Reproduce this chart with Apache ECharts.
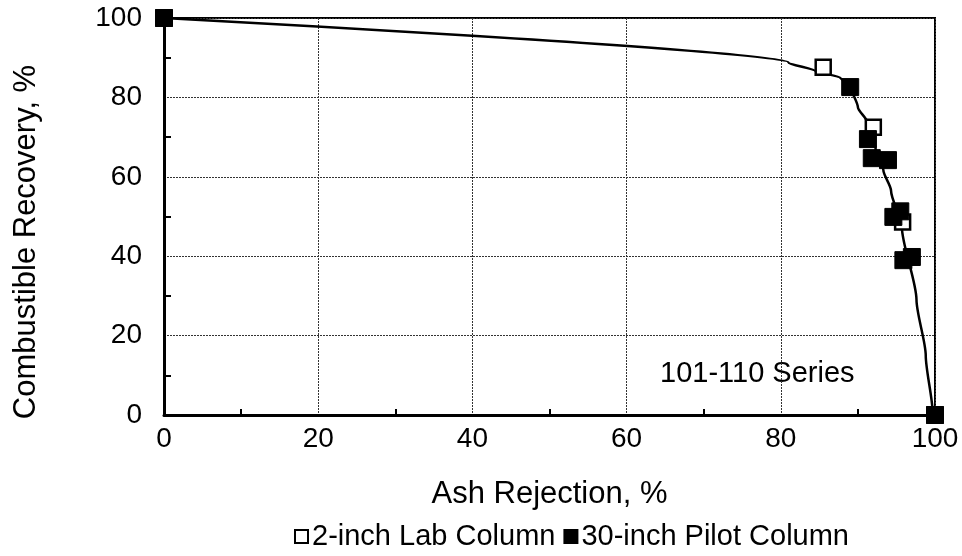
<!DOCTYPE html>
<html>
<head>
<meta charset="utf-8">
<script src="https://cdn.jsdelivr.net/npm/echarts@6/dist/echarts.min.js"></script>
<style>html,body{margin:0;padding:0;background:#fff}#c{width:962px;height:556px}</style>
</head>
<body>
<div id="c"></div>
<script>
const xTicks = [0, 20, 40, 60, 80, 100];
const yTicks = [0, 20, 40, 60, 80, 100];
const labX = [0, 85.5, 92.0, 95.8, 100];
const labY = [100, 87.6, 72.5, 48.6, 0];
const pilotX = [0, 89.0, 91.3, 91.8, 93.9, 94.6, 95.5, 95.9, 97.0, 100];
const pilotY = [100, 82.6, 69.5, 64.7, 64.2, 49.9, 51.3, 39.0, 39.8, 0];
const curveX = [0, 81, 84.5, 87.7, 89, 90, 91.2, 92.3, 93.3, 94.3, 95.7, 97.6, 98.8, 99.7, 100];
const curveY = [100, 88.8, 86.6, 85, 83, 77.5, 73.8, 67, 61.7, 56.5, 47.4, 29, 15, 0.5, 0];
const seriesNames = ['2-inch Lab Column', '30-inch Pilot Column'];
const xTitle = 'Ash Rejection, %';
const yTitle = 'Combustible Recovery, %';
const annotation = '101-110 Series';

const zip = (a, b) => a.map((v, i) => [v, b[i]]);
const font = 'Liberation Sans, Arial, sans-serif';
const chart = echarts.init(document.getElementById('c'), null, {renderer: 'canvas'});
chart.setOption({
  animation: false,
  backgroundColor: '#fff',
  textStyle: {fontFamily: font, color: '#000'},
  grid: {left: 164, right: 27, top: 18, bottom: 141, show: true, borderColor: '#000', borderWidth: 2, backgroundColor: 'transparent'},
  xAxis: {
    type: 'value', min: 0, max: 100, interval: 20,
    name: xTitle, nameLocation: 'middle', nameGap: 64,
    nameTextStyle: {fontSize: 31, fontFamily: font, color: '#000'},
    axisLine: {onZero: false, lineStyle: {color: '#000', width: 3}},
    axisTick: {show: true, inside: true, length: 0},
    minorTick: {show: true, splitNumber: 2, length: 6, lineStyle: {color: '#000', width: 2}},
    axisLabel: {fontSize: 28, margin: 10, color: '#000', fontFamily: font},
    splitLine: {show: true, lineStyle: {color: '#333', width: 1, type: [2, 1]}}
  },
  yAxis: {
    type: 'value', min: 0, max: 100, interval: 20,
    axisLine: {onZero: false, lineStyle: {color: '#000', width: 3}},
    axisTick: {show: true, inside: true, length: 0},
    minorTick: {show: true, splitNumber: 2, length: 7, lineStyle: {color: '#000', width: 2}},
    axisLabel: {fontSize: 28, margin: 22, color: '#000', fontFamily: font},
    splitLine: {show: true, lineStyle: {color: '#333', width: 1, type: [2, 1]}}
  },
  legend: {
    bottom: 0, left: 289, itemWidth: 13, itemHeight: 13, itemGap: 8,
    icon: 'rect',
    textStyle: {fontSize: 29, fontFamily: font, color: '#000', padding: [0, 0, 0, -1]},
    data: seriesNames
  },
  graphic: [
    {
      type: 'text', left: 660, top: 359,
      style: {text: annotation, fontSize: 29, fontFamily: font, fill: '#000'}
    },
    {
      type: 'text', x: 26, y: 242, rotation: Math.PI / 2,
      style: {text: yTitle, fontSize: 31, fontFamily: font, fill: '#000', align: 'center', verticalAlign: 'middle'}
    }
  ],
  series: [
    {
      type: 'line', data: zip(curveX, curveY), showSymbol: false, symbol: 'none',
      smooth: 0.25, smoothMonotone: 'y',
      lineStyle: {color: '#000', width: 2.5}, z: 2, silent: true
    },
    {
      name: seriesNames[0], type: 'scatter', data: zip(labX, labY),
      symbol: 'rect', symbolSize: 15,
      itemStyle: {color: '#fff', borderColor: '#000', borderWidth: 2.5, opacity: 1}, z: 3
    },
    {
      name: seriesNames[1], type: 'scatter', data: zip(pilotX, pilotY),
      symbol: 'rect', symbolSize: 17,
      itemStyle: {color: '#000', borderColor: '#000', borderWidth: 1, opacity: 1}, z: 4
    }
  ]
});
</script>
</body>
</html>
